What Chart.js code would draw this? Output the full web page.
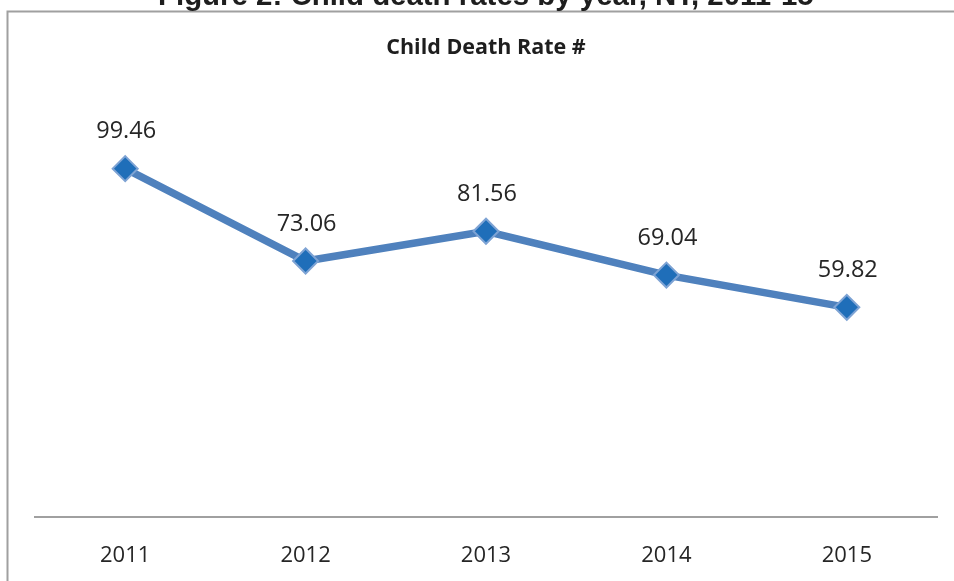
<!DOCTYPE html>
<html>
<head>
<meta charset="utf-8">
<script src="https://cdn.jsdelivr.net/npm/chart.js@4.4.1/dist/chart.umd.min.js"></script>
<style>
  html, body { margin: 0; padding: 0; background: #ffffff; overflow: hidden; }
  canvas { display: block; }
</style>
</head>
<body>
<canvas id="c" width="954" height="581"></canvas>
<script>
const figureTitle = "Figure 2: Child death rates by year, NT, 2011-15";
const chartTitle = "Child Death Rate #";
const categories = ["2011", "2012", "2013", "2014", "2015"];
const childDeathRate = [99.46, 73.06, 81.56, 69.04, 59.82];
const yMin = 0;
const yMax = 120;

const frameAndFigureTitle = {
  id: 'frameAndFigureTitle',
  beforeDraw(chart) {
    const ctx = chart.ctx;
    ctx.save();
    ctx.fillStyle = '#ffffff';
    ctx.fillRect(0, 0, chart.width, chart.height);
    ctx.strokeStyle = '#a0a0a0';
    ctx.lineWidth = 2;
    ctx.beginPath();
    ctx.moveTo(7.5, chart.height + 2);
    ctx.lineTo(7.5, 11.5);
    ctx.lineTo(chart.width + 2, 11.5);
    ctx.stroke();
    let size = 22;
    ctx.font = 'bold ' + size + 'px "Liberation Sans", Arial, sans-serif';
    const w = ctx.measureText(figureTitle).width;
    size = size * 656 / w;
    ctx.font = 'bold ' + size.toFixed(2) + 'px "Liberation Sans", Arial, sans-serif';
    ctx.fillStyle = '#1e1e1e';
    ctx.textAlign = 'left';
    ctx.textBaseline = 'alphabetic';
    ctx.fillText(figureTitle, 158, 5);
    ctx.restore();
  }
};

const valueLabels = {
  id: 'valueLabels',
  afterDatasetsDraw(chart) {
    const ctx = chart.ctx;
    const meta = chart.getDatasetMeta(0);
    ctx.save();
    ctx.font = '23.5px "Open Sans", sans-serif';
    ctx.fillStyle = '#262626';
    ctx.textAlign = 'center';
    ctx.textBaseline = 'middle';
    meta.data.forEach((pt, i) => {
      ctx.fillText(childDeathRate[i].toFixed(2), pt.x + 1, pt.y - 37);
    });
    ctx.restore();
  }
};

new Chart(document.getElementById('c'), {
  type: 'line',
  data: {
    labels: categories,
    datasets: [{
      label: chartTitle,
      data: childDeathRate,
      borderColor: '#4f81bd',
      borderWidth: 7.5,
      tension: 0,
      fill: false,
      pointStyle: 'rectRot',
      pointRadius: 12.5,
      pointHoverRadius: 12.5,
      pointBackgroundColor: '#1f6eb9',
      pointBorderColor: '#7ea3d4',
      pointBorderWidth: 2
    }]
  },
  options: {
    responsive: false,
    animation: false,
    events: [],
    layout: { padding: { left: 35, right: 17, top: 0, bottom: -14 } },
    plugins: {
      legend: { display: false },
      tooltip: { enabled: false },
      title: {
        display: true,
        text: chartTitle,
        color: '#1e1e1e',
        font: { family: '"Open Sans", sans-serif', size: 21.5, weight: 'bold' },
        padding: { top: 35, bottom: 36 }
      }
    },
    scales: {
      x: {
        offset: true,
        grid: { display: true, color: 'rgba(0,0,0,0)', drawTicks: false, drawOnChartArea: false },
        border: { display: true, color: '#a0a0a0', width: 2 },
        ticks: {
          color: '#262626',
          padding: 26,
          font: { family: '"Open Sans", sans-serif', size: 22 }
        }
      },
      y: {
        display: false,
        min: yMin,
        max: yMax
      }
    }
  },
  plugins: [frameAndFigureTitle, valueLabels]
});
</script>
</body>
</html>
